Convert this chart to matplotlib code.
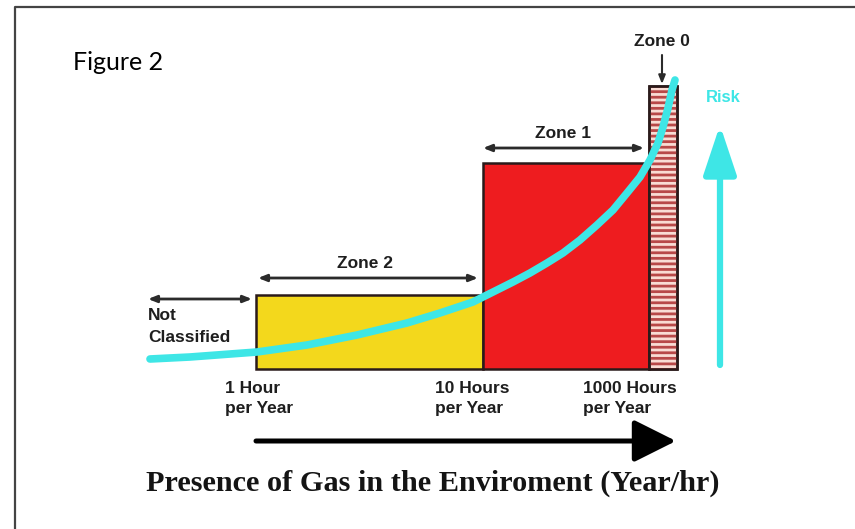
import matplotlib.pyplot as plt
from matplotlib.patches import FancyArrowPatch

# diagram units: 1 unit = 1 px of the original picture, y measured upward
zone_names = ['Zone 2', 'Zone 1', 'Zone 0']
zone_left = [256, 483, 649]
zone_width = [227, 166, 28]
zone_height = [74, 206, 283]
zone_colors = ['#f3d81c', '#ee1c1f', '#f9dcd4']
base = 160

tick_x = [225, 435, 583]
tick_labels = ['1 Hour\nper Year', '10 Hours\nper Year', '1000 Hours\nper Year']

risk_x = [150, 190, 257, 307, 357, 407, 440, 473, 487, 497, 513, 530, 547,
          563, 580, 597, 613, 627, 640, 650, 658, 663, 668, 672, 675]
risk_y = [170, 172, 177, 184, 194, 206, 216, 227, 234, 239, 247, 256, 266,
          276, 289, 304, 319, 336, 352, 369, 386, 402, 421, 439, 449]

cyan = '#3ee6e6'
dark = '#2b2b2b'
plt.rcParams['hatch.linewidth'] = 2.0

fig = plt.figure(figsize=(8.55, 5.29), dpi=100)
ax = fig.add_axes([0, 0, 1, 1])
ax.set_xlim(0, 855)
ax.set_ylim(0, 529)
ax.axis('off')

# page frame
ax.plot([15, 15, 855], [0, 522, 522], color='#444444', lw=1.6)
ax.text(73, 467, 'Figure 2', fontsize=18, family='Lato', va='center')

# zone bars
for i in range(3):
    ax.bar(zone_left[i], zone_height[i], width=zone_width[i], bottom=base,
           align='edge', color=zone_colors[i], edgecolor='#2a1a1a', lw=1.8,
           zorder=2)
ax.bar(zone_left[2], zone_height[2], width=zone_width[2], bottom=base,
       align='edge', color='none', edgecolor='#b84848', hatch='---', lw=0,
       zorder=3)
ax.bar(zone_left[2], zone_height[2], width=zone_width[2], bottom=base,
       align='edge', color='none', edgecolor='#2a1a1a', lw=1.8, zorder=3)

# risk curve
ax.plot(risk_x, risk_y, color=cyan, lw=5.5, solid_capstyle='round',
        solid_joinstyle='round', zorder=4)

lab = dict(fontsize=12.5, family='Liberation Sans', weight='bold',
           color='#1e1e1e')


def span(x0, x1, y):
    ax.annotate('', xy=(x1, y), xytext=(x0, y),
                arrowprops=dict(arrowstyle='<|-|>,head_length=0.5,head_width=0.2',
                                color=dark, lw=2, shrinkA=0, shrinkB=0))


span(zone_left[0] + 2, zone_left[1] - 5, 251)
ax.text(365, 265, zone_names[0], ha='center', va='center', **lab)
span(zone_left[1], zone_left[2] - 5, 381)
ax.text(563, 396, zone_names[1], ha='center', va='center', **lab)
ax.text(662, 487, zone_names[2], ha='center', va='center', **lab)
ax.annotate('', xy=(662, 445), xytext=(662, 474),
            arrowprops=dict(arrowstyle='-|>,head_length=0.5,head_width=0.2',
                            color=dark, lw=1.5, shrinkA=0, shrinkB=0))

span(148, 252, 230)
ax.text(148, 214, 'Not', ha='left', va='center', **lab)
ax.text(148, 191, 'Classified', ha='left', va='center', **lab)

for x, t in zip(tick_x, tick_labels):
    ax.text(x, 148, t, ha='left', va='top', linespacing=1.4, **lab)

# risk arrow
ax.add_patch(FancyArrowPatch((720, 164), (720, 404),
                             arrowstyle='-|>,head_length=30,head_width=10',
                             mutation_scale=1, color=cyan, lw=4.5,
                             shrinkA=0, shrinkB=0))
ax.text(723, 431, 'Risk', ha='center', va='center', fontsize=12,
        family='Liberation Sans', weight='bold', color=cyan)

# presence arrow
ax.add_patch(FancyArrowPatch((256, 88), (676, 88),
                             arrowstyle='-|>,head_length=26,head_width=13',
                             mutation_scale=1, color='black', lw=3.6,
                             shrinkA=0, shrinkB=0))
ax.text(433, 46, 'Presence of Gas in the Enviroment (Year/hr)', ha='center',
        va='center', fontsize=21.8, family='Liberation Serif', weight='bold',
        color='#141414')

fig.savefig('out.png', dpi=100)
